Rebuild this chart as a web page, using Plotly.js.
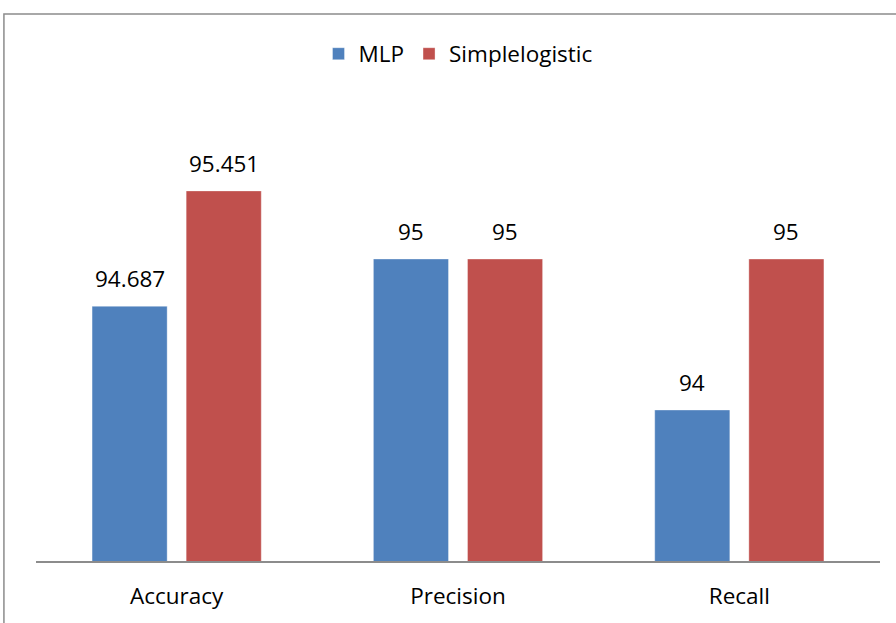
<!DOCTYPE html>
<html>
<head>
<meta charset="utf-8">
<script src="https://cdn.plot.ly/plotly-3.0.1.min.js"></script>
<style>html,body{margin:0;padding:0;background:#fff;}#chart{width:896px;height:623px;}</style>
</head>
<body>
<div id="chart"></div>
<script>
var categories = ["Accuracy", "Precision", "Recall"];
var mlpValues = [94.687, 95, 94];
var slValues = [95.451, 95, 95];
var seriesNames = ["MLP", "Simplelogistic"];
var colors = ["#4F81BD", "#C0504D"];

var FONT = "'Open Sans', 'Noto Sans', sans-serif";
var FSIZE = 22.5;
var bargap = 0.331;
var bargroupgap = 0.202;

var traces = [mlpValues, slValues].map(function (vals, i) {
  return {
    type: "bar",
    name: seriesNames[i],
    x: categories,
    y: vals,
    marker: {color: colors[i], line: {color: "rgba(255,255,255,0.35)", width: 1}},
    hoverinfo: "x+y"
  };
});

var slot = (1 - bargap) / 2;
var annotations = [];
[mlpValues, slValues].forEach(function (vals, i) {
  vals.forEach(function (v, j) {
    annotations.push({
      x: j + (i === 0 ? -slot / 2 : slot / 2),
      y: v,
      xref: "x", yref: "y",
      text: String(v),
      showarrow: false,
      yanchor: "bottom",
      yshift: 10,
      font: {family: FONT, size: FSIZE, color: "#000"}
    });
  });
});

var layout = {
  width: 896, height: 623,
  margin: {l: 36, r: 16, t: 108, b: 62},
  paper_bgcolor: "#fff", plot_bgcolor: "#fff",
  barmode: "group",
  bargap: bargap,
  bargroupgap: bargroupgap,
  showlegend: true,
  legend: {
    orientation: "h", x: 0.5, xanchor: "center", y: 1.119, yanchor: "middle",
    font: {family: FONT, size: FSIZE, color: "#000"},
    itemwidth: 30, traceorder: "normal"
  },
  xaxis: {
    type: "category",
    showline: true, linecolor: "#8C8C8C", linewidth: 1.5,
    ticks: "", showgrid: false, zeroline: false,
    tickfont: {family: FONT, size: FSIZE, color: "#000"},
    ticklabelstandoff: 14,
    range: [-0.5, 2.5]
  },
  yaxis: {
    range: [93, 96], visible: false, showgrid: false, zeroline: false
  },
  annotations: annotations,
  shapes: [{
    type: "rect", xref: "paper", yref: "paper",
    x0: -0.038, x1: 1.1, y0: -0.3, y1: 1.2075,
    line: {color: "#8C8C8C", width: 1.5}, fillcolor: "rgba(0,0,0,0)", layer: "below"
  }]
};

Plotly.newPlot("chart", traces, layout, {displayModeBar: false, staticPlot: true});
</script>
</body>
</html>
